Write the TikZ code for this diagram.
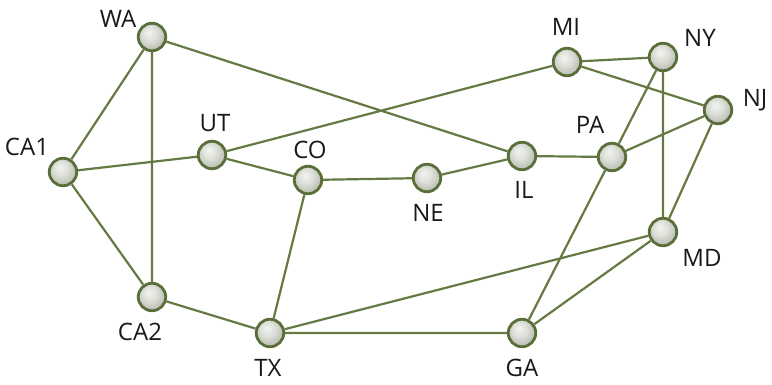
\documentclass[tikz,border=0pt]{standalone}
\usepackage{fontspec}
\setmainfont{Open Sans}
\usetikzlibrary{backgrounds}
\definecolor{edgegreen}{HTML}{647A42}
\definecolor{rimgreen}{HTML}{5A6E3A}
\definecolor{ballhi}{HTML}{F3F4F1}
\definecolor{ballmid}{HTML}{DCDED7}
\definecolor{balllo}{HTML}{AFB3A6}
\pgfdeclareradialshading{cityball}{\pgfpoint{-6bp}{9bp}}{%
  color(0bp)=(ballhi); color(14bp)=(ballmid); color(32bp)=(balllo); color(50bp)=(balllo)}
\tikzset{
  city/.style={circle, draw=rimgreen, line width=2.8pt, minimum size=27.5pt,
    inner sep=0pt, shading=cityball},
  tag/.style={font=\fontsize{24}{24}\selectfont, text=black!90, inner sep=0pt},
  link/.style={draw=edgegreen, line width=2.2pt}
}
\begin{document}
\begin{tikzpicture}[x=1pt, y=-1pt]
\useasboundingbox (0,0) rectangle (772,385);
% cities
\node[city] (WA)  at (152,37)  {};
\node[city] (CA1) at (63,172)  {};
\node[city] (UT)  at (212,155) {};
\node[city] (CO)  at (308,180) {};
\node[city] (NE)  at (427,178) {};
\node[city] (IL)  at (522,156) {};
\node[city] (PA)  at (612,157) {};
\node[city] (MI)  at (567,62)  {};
\node[city] (NY)  at (663,57)  {};
\node[city] (NJ)  at (718,110) {};
\node[city] (MD)  at (663,232) {};
\node[city] (GA)  at (522,333) {};
\node[city] (TX)  at (270,333) {};
\node[city] (CA2) at (152,297) {};
% links, drawn behind the cities
\begin{scope}[on background layer]
  \path[link] (WA) -- (CA1)  (WA) -- (CA2)  (WA) -- (IL)
              (CA1) -- (UT)  (CA1) -- (CA2)
              (UT) -- (MI)   (UT) -- (CO)
              (CO) -- (NE)   (CO) -- (TX)
              (NE) -- (IL)   (IL) -- (PA)
              (PA) -- (NY)   (PA) -- (NJ)  (PA) -- (GA)
              (MI) -- (NY)   (MI) -- (NJ)
              (NY) -- (MD)   (NJ) -- (MD)
              (MD) -- (TX)   (MD) -- (GA)
              (CA2) -- (TX)  (TX) -- (GA);
\end{scope}
% names
\node[tag] (tWA)  at (118,19)  {WA};
\node[tag] (tCA1) at (27,147)  {CA1};
\node[tag] (tUT)  at (215,123) {UT};
\node[tag] (tCO)  at (310,150) {CO};
\node[tag] (tNE)  at (428,213) {NE};
\node[tag] (tIL)  at (524,190) {IL};
\node[tag] (tPA)  at (590,125) {PA};
\node[tag] (tMI)  at (566,27)  {MI};
\node[tag] (tNY)  at (700,38)  {NY};
\node[tag] (tNJ)  at (755,100) {NJ};
\node[tag] (tMD)  at (702,258) {MD};
\node[tag] (tGA)  at (522,368) {GA};
\node[tag] (tTX)  at (268,368) {TX};
\node[tag] (tCA2) at (140,332) {CA2};
\end{tikzpicture}
\end{document}
